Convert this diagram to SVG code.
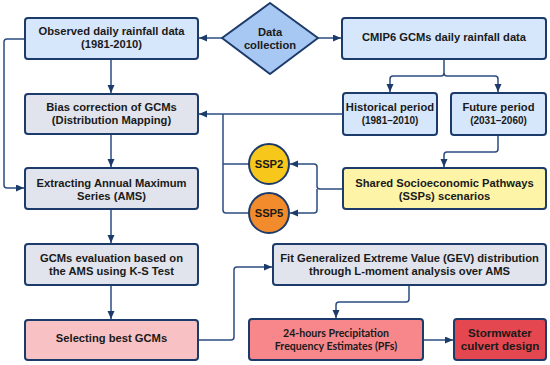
<svg xmlns="http://www.w3.org/2000/svg" width="550" height="365" viewBox="0 0 550 365">
<style>
.box{stroke:#1d3b6a;stroke-width:2}
.blue{fill:#d6e7fb}
.gray{fill:#e1e4ec}
.t{font-family:"Liberation Sans",Arial,sans-serif;font-weight:bold;font-size:11.2px;fill:#1a1a1a;text-anchor:middle}
.s{font-family:Lato,"Open Sans",sans-serif;font-weight:bold;font-size:10.6px;fill:#1a1a1a;text-anchor:middle}
.c{fill:none;stroke:#2a4c80;stroke-width:1.5}
.a{marker-end:url(#ah)}
</style>
<defs>
<marker id="ah" markerUnits="userSpaceOnUse" markerWidth="9" markerHeight="8" refX="8" refY="3.5" orient="auto">
<path d="M0,0 L8,3.5 L0,7 z" fill="#1d3b6a"/>
</marker>
</defs>
<rect width="550" height="365" fill="#ffffff"/>
<g id="connectors">
<path class="c a" d="M222,38 H199"/>
<path class="c a" d="M318,38 H341"/>
<path class="c a" d="M444,59 V73 Q444,76 441,76 H393 Q390,76 390,79 V92"/>
<path class="c a" d="M444,73 Q444,76 447,76 H495 Q498,76 498,79 V92"/>
<path class="c a" d="M111,59 V93"/>
<path class="c a" d="M111,134 V167"/>
<path class="c a" d="M111,209 V243"/>
<path class="c a" d="M111,285 V319"/>
<path class="c a" d="M25,39 H7 Q4,39 4,42 V185 Q4,188 7,188 H24"/>
<path class="c a" d="M343,114 H199"/>
<path class="c" d="M223,114 V210 Q223,213 226,213 H249"/>
<path class="c" d="M223,164 H249"/>
<path class="c a" d="M343,189 H320 Q317,189 317,186 V167 Q317,164 314,164 H290"/>
<path class="c a" d="M317,189 V210 Q317,213 314,213 H290"/>
<path class="c a" d="M498,135 V149 Q498,152 495,152 H447 Q444,152 444,155 V167"/>
<path class="c a" d="M198,340 H231 Q234,340 234,337 V270 Q234,267 237,267 H272"/>
<path class="c a" d="M409,285 V299 Q409,302 406,302 H339 Q336,302 336,305 V318"/>
<path class="c a" d="M423,340 H453"/>
</g>
<g id="observed">
<rect class="box blue" x="25" y="18" width="173" height="41" rx="3"/>
<text class="t" x="111.5" y="35">Observed daily rainfall data</text>
<text class="t" x="111.5" y="48">(1981-2010)</text>
</g>
<g id="datacollection">
<path class="box" d="M270,3 L318,38 L270,74 L222,38 Z" fill="#a6c8f2" stroke-linejoin="round"/>
<text class="t" x="270" y="36">Data</text>
<text class="t" x="270" y="49">collection</text>
</g>
<g id="cmip6">
<rect class="box blue" x="342" y="18" width="204" height="41" rx="3"/>
<text class="t" x="444" y="41">CMIP6 GCMs daily rainfall data</text>
</g>
<g id="historical">
<rect class="box blue" x="343" y="93" width="94" height="42" rx="3"/>
<text class="t" x="390" y="111">Historical period</text>
<text class="t" x="390" y="124" style="font-size:10px">(1981–2010)</text>
</g>
<g id="future">
<rect class="box blue" x="451" y="93" width="95" height="42" rx="3"/>
<text class="t" x="498.5" y="111">Future period</text>
<text class="t" x="498.5" y="124" style="font-size:10px">(2031–2060)</text>
</g>
<g id="bias">
<rect class="box gray" x="25" y="94" width="173" height="40" rx="3"/>
<text class="t" x="111.5" y="111">Bias correction of GCMs</text>
<text class="t" x="111.5" y="124">(Distribution Mapping)</text>
</g>
<g id="ssp2">
<circle class="box" cx="269" cy="164" r="20" fill="#f8c71b"/>
<text class="t" x="269" y="168">SSP2</text>
</g>
<g id="ssp5">
<circle class="box" cx="269" cy="213" r="20" fill="#f28b2b"/>
<text class="t" x="269" y="217">SSP5</text>
</g>
<g id="extracting">
<rect class="box gray" x="25" y="168" width="173" height="41" rx="3"/>
<text class="t" x="111.5" y="187">Extracting Annual Maximum</text>
<text class="t" x="111.5" y="200">Series (AMS)</text>
</g>
<g id="ssps">
<rect class="box" x="343" y="168" width="203" height="41" rx="3" fill="#fdf4a8"/>
<text class="t" x="444.5" y="187">Shared Socioeconomic Pathways</text>
<text class="t" x="444.5" y="200">(SSPs) scenarios</text>
</g>
<g id="evaluation">
<rect class="box gray" x="25" y="244" width="173" height="41" rx="3"/>
<text class="t" x="111.5" y="262">GCMs evaluation based on</text>
<text class="t" x="111.5" y="275">the AMS using K-S Test</text>
</g>
<g id="gev">
<rect class="box gray" x="273" y="244" width="273" height="41" rx="3"/>
<text class="t" x="409.5" y="262">Fit Generalized Extreme Value (GEV) distribution</text>
<text class="t" x="409.5" y="275">through L-moment analysis over AMS</text>
</g>
<g id="selecting">
<rect class="box" x="25" y="320" width="173" height="40" rx="3" fill="#f8c1c4"/>
<text class="t" x="111.5" y="342">Selecting best GCMs</text>
</g>
<g id="pfs">
<rect class="box" x="249" y="319" width="174" height="41" rx="3" fill="#f7878b"/>
<text class="s" x="336" y="337">24-hours Precipitation</text>
<text class="s" x="336" y="350">Frequency Estimates (PFs)</text>
</g>
<g id="stormwater">
<rect class="box" x="454" y="319" width="92" height="41" rx="3" fill="#e4474f"/>
<text class="t" x="500" y="337" style="font-size:11.6px">Stormwater</text>
<text class="t" x="500" y="350" style="font-size:11.6px">culvert design</text>
</g>
</svg>
